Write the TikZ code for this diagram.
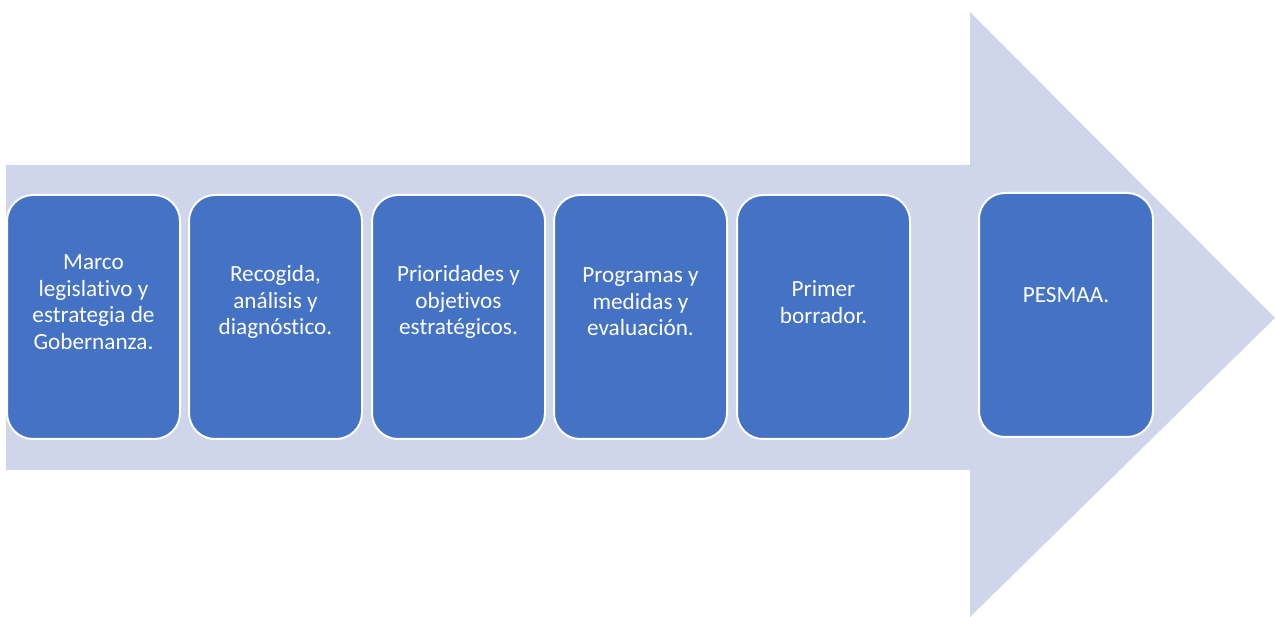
\documentclass[tikz,border=0pt]{standalone}
\usepackage{fontspec}
\setmainfont[RawFeature={-liga}]{Carlito}
\definecolor{arrowfill}{HTML}{CFD5EA}
\definecolor{boxfill}{HTML}{4472C4}
\begin{document}
\begin{tikzpicture}[x=1pt,y=-1pt,
  stepbox/.style={draw=white, line width=2pt, fill=boxfill, rounded corners=26pt},
  steptext/.style={text=white, align=center, font=\fontsize{23.2}{26.5}\selectfont, inner sep=0pt}]
\useasboundingbox (0,0) rectangle (1275,617);
\fill[arrowfill] (6,165) -- (970,165) -- (970,12) -- (1275,318) -- (970,617) -- (970,470) -- (6,470) -- cycle;
\draw[stepbox] (7,195) rectangle (180,439);
\draw[stepbox] (189,195) rectangle (362,439);
\draw[stepbox] (372,195) rectangle (545,439);
\draw[stepbox] (554,195) rectangle (727,439);
\draw[stepbox] (737,195) rectangle (910,439);
\draw[stepbox] (979,193) rectangle (1153,437);
\node[steptext] (t1) at (93.5,302) {Marco\\legislativo y\\estrategia de\\Gobernanza.};
\node[steptext] (t2) at (275.5,302) {Recogida,\\análisis y\\diagnóstico.};
\node[steptext] (t3) at (458.5,302) {Prioridades y\\objetivos\\estratégicos.};
\node[steptext] (t4) at (640.5,302) {Programas y\\medidas y\\evaluación.};
\node[steptext] (t5) at (823.5,302) {Primer\\borrador.};
\node[steptext] (t6) at (1066,295) {PESMAA.};
\end{tikzpicture}
\end{document}
